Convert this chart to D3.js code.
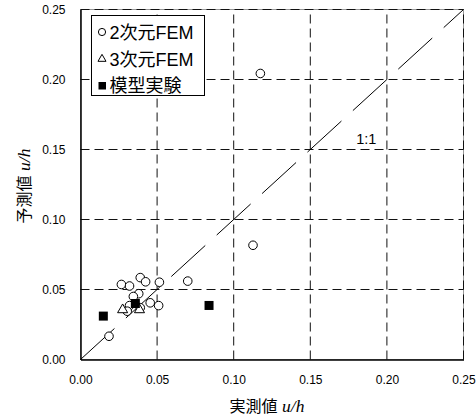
<!DOCTYPE html>
<html>
<head>
<meta charset="utf-8">
<script src="https://cdn.jsdelivr.net/npm/d3@7"></script>
<style>
  body { margin: 0; background: #fff; }
  text { font-family: "Liberation Sans", Arial, "Noto Sans CJK JP", sans-serif; }
</style>
</head>
<body>
<svg id="chart" width="476" height="416"></svg>
<script>
// measured vs predicted u/h
var fem2 = [
    [0.0186, 0.0166], [0.0267, 0.0536], [0.0320, 0.0525], [0.0390, 0.0585],
    [0.0425, 0.0555], [0.0515, 0.0552], [0.0700, 0.0560], [0.0380, 0.0470],
    [0.0345, 0.0450], [0.0455, 0.0405], [0.0510, 0.0385], [0.0320, 0.0385],
    [0.0305, 0.0345], [0.0390, 0.0370], [0.1126, 0.0816], [0.1174, 0.2043]
];
var fem3 = [[0.0275, 0.0355], [0.0385, 0.0355]];
var experiment = [[0.0149, 0.0310], [0.0358, 0.0400], [0.0839, 0.0386]];
var ticks = [0, 0.05, 0.10, 0.15, 0.20, 0.25];
var legendLabels = ["2次元FEM", "3次元FEM", "模型実験"];

(function () {
    var left = 80.5, top = 9.5, width = 383, height = 350;

    var svg = d3.select("#chart");
    var g = svg.append("g").attr("transform", "translate(" + left + "," + top + ")");

    var x = d3.scaleLinear().domain([0, 0.25]).range([0, width]);
    var y = d3.scaleLinear().domain([0, 0.25]).range([height, 0]);
    var fmt = d3.format(".2f");

    // grey frame on top / right
    g.append("rect")
        .attr("width", width).attr("height", height)
        .attr("fill", "none").attr("stroke", "#999").attr("stroke-width", 1);

    // dashed grid
    g.append("g")
        .selectAll("line")
        .data(ticks.slice(1))
        .join("line")
        .attr("x1", d => x(d)).attr("x2", d => x(d))
        .attr("y1", height).attr("y2", 0)
        .attr("stroke", "#111").attr("stroke-width", 1)
        .attr("stroke-dasharray", "9,5");
    g.append("g")
        .selectAll("line")
        .data(ticks.slice(1))
        .join("line")
        .attr("y1", d => y(d)).attr("y2", d => y(d))
        .attr("x1", 0).attr("x2", width)
        .attr("stroke", "#111").attr("stroke-width", 1)
        .attr("stroke-dasharray", "9,5");

    // axes
    var xAxis = g.append("g")
        .attr("transform", "translate(0," + height + ")")
        .call(d3.axisBottom(x).tickValues(ticks).tickFormat(fmt).tickSize(0).tickPadding(16));
    var yAxis = g.append("g")
        .call(d3.axisLeft(y).tickValues(ticks).tickFormat(fmt).tickSize(0).tickPadding(15));
    [xAxis, yAxis].forEach(function (a) {
        a.select(".domain").attr("stroke", "#000").attr("stroke-width", 1.5);
        a.selectAll("text")
            .attr("font-family", "'Liberation Sans', Arial, sans-serif")
            .attr("font-size", 12).attr("fill", "#000");
    });

    // 1:1 line
    g.append("path")
        .datum([0, 0.25])
        .attr("d", d3.line().x(d => x(d)).y(d => y(d)))
        .attr("stroke", "#000").attr("stroke-width", 1)
        .attr("stroke-dasharray", "46,15.5").attr("fill", "none");

    g.append("text")
        .attr("x", x(0.1865)).attr("y", y(0.154))
        .attr("text-anchor", "middle")
        .attr("font-size", 14.5)
        .text("1:1");

    // markers
    g.append("g")
        .selectAll("circle")
        .data(fem2)
        .join("circle")
        .attr("cx", d => x(d[0])).attr("cy", d => y(d[1]))
        .attr("r", 4.3)
        .attr("fill", "#fff").attr("stroke", "#000").attr("stroke-width", 1);

    var tri = d3.symbol().type(d3.symbolTriangle).size(44);
    g.append("g")
        .selectAll("path")
        .data(fem3)
        .join("path")
        .attr("d", tri)
        .attr("transform", d => "translate(" + x(d[0]) + "," + y(d[1]) + ")")
        .attr("fill", "#fff").attr("stroke", "#000").attr("stroke-width", 1);

    g.append("g")
        .selectAll("rect")
        .data(experiment)
        .join("rect")
        .attr("x", d => x(d[0]) - 4.5).attr("y", d => y(d[1]) - 4.5)
        .attr("width", 9).attr("height", 9)
        .attr("fill", "#000");

    // legend
    var lg = svg.append("g").attr("transform", "translate(91.5,15.5)");
    lg.append("rect")
        .attr("width", 113).attr("height", 80)
        .attr("fill", "#fff").attr("stroke", "#000").attr("stroke-width", 1);
    var rows = lg.selectAll("g.row")
        .data(legendLabels)
        .join("g")
        .attr("class", "row")
        .attr("transform", (d, i) => "translate(0," + (17 + i * 26.5) + ")");
    rows.append("text")
        .attr("x", 18).attr("y", 6.5)
        .attr("font-size", 18)
        .text(d => d);
    lg.append("circle")
        .attr("cx", 10.5).attr("cy", 16.5).attr("r", 3.6)
        .attr("fill", "#fff").attr("stroke", "#000");
    lg.append("path")
        .attr("d", d3.symbol().type(d3.symbolTriangle).size(28))
        .attr("transform", "translate(10.5,43.5)")
        .attr("fill", "#fff").attr("stroke", "#000");
    lg.append("rect")
        .attr("x", 7).attr("y", 66.5).attr("width", 7.5).attr("height", 7.5)
        .attr("fill", "#000");

    // axis titles
    var xt = svg.append("text")
        .attr("x", 267).attr("y", 412)
        .attr("text-anchor", "middle")
        .attr("font-size", 16);
    xt.append("tspan").text("実測値 ");
    xt.append("tspan").attr("font-family", "'Liberation Serif', 'Times New Roman', serif")
        .attr("font-style", "italic").attr("font-size", 17.5).text("u/h");

    var yt = svg.append("text")
        .attr("transform", "translate(30,186) rotate(-90)")
        .attr("text-anchor", "middle")
        .attr("font-size", 16);
    yt.append("tspan").text("予測値 ");
    yt.append("tspan").attr("font-family", "'Liberation Serif', 'Times New Roman', serif")
        .attr("font-style", "italic").attr("font-size", 17.5).text("u/h");
})();
</script>
</body>
</html>
